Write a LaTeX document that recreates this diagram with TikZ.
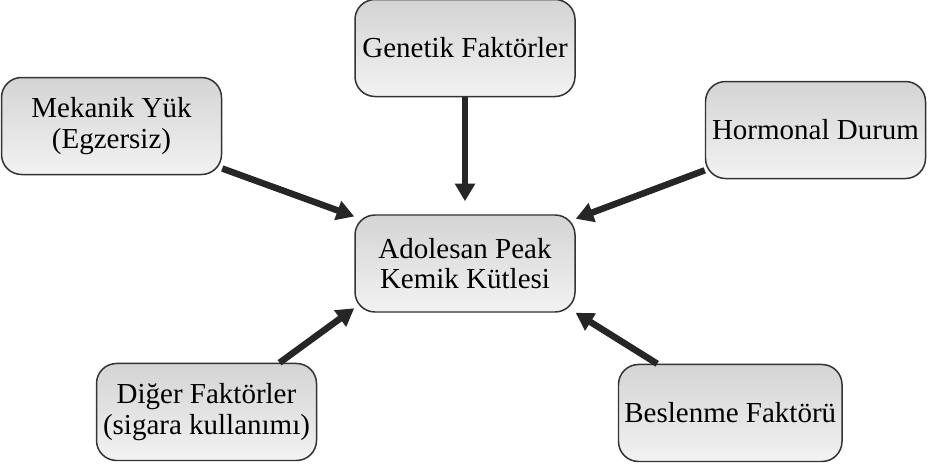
\documentclass[tikz,border=0pt]{standalone}
\usepackage{tikz}
\usetikzlibrary{arrows.meta, positioning}
\usepackage{fontspec}
\setmainfont{Liberation Serif}
\definecolor{kenar}{RGB}{51,51,51}
\definecolor{okrenk}{RGB}{38,38,38}
\definecolor{ustgri}{RGB}{212,212,212}
\definecolor{altgri}{RGB}{242,242,242}

\tikzset{
  faktor/.style={draw=kenar, line width=0.85pt, rounded corners=0.4cm,
    top color=ustgri, bottom color=altgri, minimum width=4.4cm,
    minimum height=1.94cm, align=center,
    font=\fontsize{16.5}{17.5}\selectfont},
  ok/.style={-{Triangle[length=10pt, width=11pt]}, okrenk, line width=3.7pt}
}

\begin{document}
\begin{tikzpicture}
        \useasboundingbox (0,0) rectangle (18.56,9.26);
        \node[faktor] (adol) at (9.3,3.99) {Adolesan Peak\\Kemik Kütlesi};
        \node[faktor, above=2.34cm of adol] (gen) {Genetik Faktörler};
        \node[faktor, above left=0.78cm and 2.64cm of adol] (mek)
          {Mekanik Yük\\(Egzersiz)};
        \node[faktor, above right=0.7cm and 2.58cm of adol] (horm)
          {Hormonal Durum};
        \node[faktor, below left=1.0cm and 0.74cm of adol] (dig)
          {Diğer Faktörler\\(sigara kullanımı)};
        \node[faktor, below right=1.02cm and 0.84cm of adol] (besl)
          {Beslenme Faktörü};
        % oklar
        \draw[ok, shorten >=0.26cm] (gen.south) -- (adol.north);
        \draw[ok] (mek.-21) -- (adol.157);
        \draw[ok] (horm.200) -- (adol.22.5);
        \draw[ok] (dig.34) -- (adol.202);
        \draw[ok] (besl.146) -- (adol.-24);
      \end{tikzpicture}
\end{document}
